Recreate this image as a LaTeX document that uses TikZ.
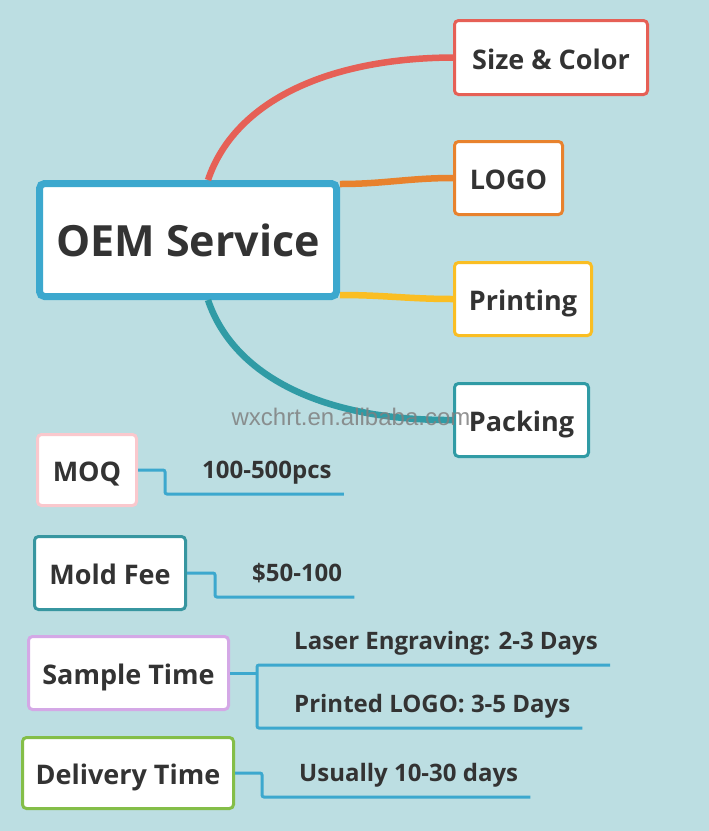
\documentclass[tikz,border=0pt]{standalone}
\usepackage{fontspec}
\setmainfont{Open Sans}
\newfontfamily\wmfont{Liberation Sans}
\usetikzlibrary{positioning,calc}
\definecolor{mapbg}{RGB}{188,222,226}
\definecolor{inkc}{RGB}{51,51,51}
\definecolor{oemblue}{RGB}{60,168,206}
\definecolor{sizered}{RGB}{230,96,86}
\definecolor{logoorange}{RGB}{232,130,45}
\definecolor{printyellow}{RGB}{250,190,35}
\definecolor{packteal}{RGB}{48,155,165}
\definecolor{moqpink}{RGB}{250,200,205}
\definecolor{moldteal}{RGB}{55,150,160}
\definecolor{samplelav}{RGB}{212,168,230}
\definecolor{delgreen}{RGB}{132,190,72}
\tikzset{
  topic/.style={draw, line width=3pt, rounded corners=4pt, fill=white, inner sep=0pt,
                text height=24pt, text depth=0.5pt,
                text=inkc, font=\fontsize{27}{32}\selectfont\bfseries},
  central/.style={topic, draw=oemblue, line width=7pt, rounded corners=5pt,
                  text height=32.5pt, text depth=0pt,
                  font=\fontsize{43}{52}\selectfont\bfseries},
  branch/.style={line width=6.5pt},
  val/.style={inner xsep=12pt, inner ysep=6pt, text height=18pt, text depth=9pt,
              anchor=south west, text=inkc, font=\fontsize{24}{29}\selectfont\bfseries},
  sub/.style={draw=oemblue, line width=3pt, rounded corners=2pt},
  wmark/.style={font=\wmfont\fontsize{24}{28}\selectfont, text=black!50, opacity=0.85}
}
\begin{document}
\begin{tikzpicture}[x=1pt, y=-1pt]
\fill[mapbg] (0,0) rectangle (709,831);
% main topic and its four branches
\node[central, minimum width=297pt, minimum height=113pt] (oem) at (188,240) {OEM Service};
\node[topic, draw=sizered, minimum width=193pt, minimum height=74pt] (size) at (551,57.5) {Size \& Color};
\node[topic, draw=logoorange, minimum width=108pt, minimum height=73pt] (logo) at (508.5,178) {LOGO};
\node[topic, draw=printyellow, minimum width=137pt, minimum height=73pt] (print) at (523,299) {Printing};
\node[topic, draw=packteal, minimum width=134pt, minimum height=73pt] (pack) at (521.5,420) {Packing};
\draw[branch, sizered] ([xshift=20pt]oem.north) .. controls (235,100) and (330,58) .. (size.west);
\draw[branch, logoorange] ($(oem.north east)+(0,4)$) to[out=0, in=180] (logo.west);
\draw[branch, printyellow] ($(oem.south east)+(0,-5)$) to[out=0, in=180] (print.west);
\draw[branch, packteal] ([xshift=20pt]oem.south) .. controls (235,380) and (330,421) .. (pack.west);
% details
\node[topic, draw=moqpink, minimum width=99pt, minimum height=71pt] (moq) at (87,470) {MOQ};
\node[topic, draw=moldteal, minimum width=151pt, minimum height=73pt] (mold) at (110,573) {Mold Fee};
\node[topic, draw=samplelav, minimum width=200pt, minimum height=73pt] (samp) at (128.5,673) {Sample Time};
\node[topic, draw=delgreen, minimum width=211pt, minimum height=71pt] (deliv) at (128,773) {Delivery Time};
\node[val] (moqv) at (190,494) {100-500pcs};
\node[val] (moldv) at (240,597) {\$50-100};
\node[val] (laserv) at (282,665) {Laser Engraving: 2-3 Days};
\node[val] (logov) at (282,728) {Printed LOGO: 3-5 Days};
\node[val] (delivv) at (287,797) {Usually 10-30 days};
\draw[sub] (moq.east) -- ++(27,0) |- (moqv.south east);
\draw[sub] (mold.east) -- ++(28,0) |- (moldv.south east);
\draw[sub] (samp.east) -- ++(27,0) coordinate (sj);
\draw[sub] (laserv.south east) -| (sj) |- (logov.south east);
\draw[sub] (deliv.east) -- ++(27,0) |- (delivv.south east);
\node[wmark] (wm) at (351,417) {wxchrt.en.alibaba.com};
\end{tikzpicture}
\end{document}
